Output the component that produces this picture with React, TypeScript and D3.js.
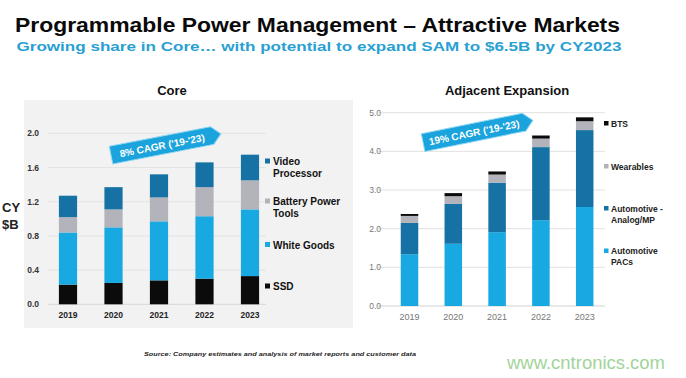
import React from "react";
import * as d3 from "d3";

const years = ["2019", "2020", "2021", "2022", "2023"];

// Core ($B)
const coreSeries = ["SSD", "White Goods", "Battery Power Tools", "Video Processor"];
const ssd = [0.23, 0.25, 0.28, 0.3, 0.33];
const whiteGoods = [0.61, 0.65, 0.69, 0.73, 0.78];
const batteryPowerTools = [0.18, 0.21, 0.28, 0.34, 0.34];
const videoProcessor = [0.25, 0.26, 0.27, 0.29, 0.3];
const coreTicks = [0, 0.4, 0.8, 1.2, 1.6, 2.0];

// Adjacent Expansion ($B)
const adjSeries = ["Automotive PACs", "Automotive - Analog/MP", "Wearables", "BTS"];
const autoPACs = [1.34, 1.61, 1.91, 2.22, 2.56];
const autoAnalogMP = [0.81, 1.03, 1.28, 1.89, 1.99];
const wearables = [0.18, 0.2, 0.21, 0.22, 0.23];
const bts = [0.05, 0.08, 0.08, 0.08, 0.1];
const adjTicks = [0, 1, 2, 3, 4, 5];

const C_DARK = "#1672a4";
const C_BRIGHT = "#18a8e2";
const C_GRAY = "#b2b3bb";
const C_BLACK = "#0b0b0b";
const coreColors = [C_BLACK, C_BRIGHT, C_GRAY, C_DARK];
const adjColors = [C_BRIGHT, C_DARK, C_GRAY, C_BLACK];

const FONT = "'Liberation Sans', Arial, sans-serif";

function stackRows(keys: string[], arrays: number[][]) {
  const rows = years.map((y, i) => {
    const r: any = { year: y };
    keys.forEach((k, j) => (r[k] = arrays[j][i]));
    return r;
  });
  return d3.stack<any>().keys(keys)(rows);
}

function Banner({ cx, cy, angle, label }: { cx: number; cy: number; angle: number; label: string }) {
  const L = 112;
  const H = 18;
  const tip = 9;
  const x0 = -L / 2;
  const x1 = L / 2 - tip;
  const pts = [
    [x0, -H / 2],
    [x1, -H / 2],
    [L / 2, 0],
    [x1, H / 2],
    [x0, H / 2],
  ];
  return (
    <g transform={`translate(${cx},${cy}) rotate(${angle})`}>
      <polygon
        points={pts.map((p) => p.join(",")).join(" ")}
        fill="#1aa3dc"
        stroke="#8fd6f2"
        strokeWidth={1}
      />
      <text
        x={-4}
        y={3.8}
        textAnchor="middle"
        fill="#ffffff"
        fontFamily={FONT}
        fontWeight="bold"
        fontSize={10}
      >
        {label}
      </text>
    </g>
  );
}

export default function App() {
  const xCore = d3
    .scaleBand<string>()
    .domain(years)
    .range([45.25, 272.75])
    .paddingInner(0.6)
    .paddingOuter(0.3);
  const yCore = d3.scaleLinear().domain([0, 2]).range([304.3, 133.3]);
  const coreStack = stackRows(coreSeries, [ssd, whiteGoods, batteryPowerTools, videoProcessor]);

  const xAdj = d3
    .scaleBand<string>()
    .domain(years)
    .range([387.6, 606.6])
    .paddingInner(0.6)
    .paddingOuter(0.3);
  const yAdj = d3.scaleLinear().domain([0, 5]).range([306, 112.7]);
  const adjStack = stackRows(adjSeries, [autoPACs, autoAnalogMP, wearables, bts]);

  const fmt = d3.format(".1f");

  const coreLegend = [
    { lines: ["Video", "Processor"], color: C_DARK, y: 165 },
    { lines: ["Battery Power", "Tools"], color: C_GRAY, y: 205 },
    { lines: ["White Goods"], color: C_BRIGHT, y: 248.5 },
    { lines: ["SSD"], color: C_BLACK, y: 290 },
  ];
  const adjLegend = [
    { lines: ["BTS"], color: C_BLACK, y: 126.5 },
    { lines: ["Wearables"], color: C_GRAY, y: 169.5 },
    { lines: ["Automotive -", "Analog/MP"], color: C_DARK, y: 211.5 },
    { lines: ["Automotive", "PACs"], color: C_BRIGHT, y: 254 },
  ];

  return (
    <svg
      width={686}
      height={378}
      style={{ position: "absolute", left: 0, top: 0, background: "#ffffff" }}
    >
      <rect x={0} y={0} width={686} height={378} fill="#ffffff" />

      <text
        x={15}
        y={32}
        fontFamily={FONT}
        fontWeight="bold"
        fontSize={20}
        fill="#0a0a0a"
        textLength={605}
        lengthAdjust="spacingAndGlyphs"
      >
        Programmable Power Management – Attractive Markets
      </text>
      <text
        x={16.5}
        y={51}
        fontFamily={FONT}
        fontWeight="bold"
        fontSize={13}
        fill="#2a9fd2"
        textLength={605}
        lengthAdjust="spacingAndGlyphs"
      >
        Growing share in Core… with potential to expand SAM to $6.5B by CY2023
      </text>

      {/* Core panel */}
      <rect x={24} y={100} width={329} height={228} fill="#f2f2f2" />
      <text x={172} y={95} textAnchor="middle" fontFamily={FONT} fontWeight="bold" fontSize={13} fill="#111">
        Core
      </text>
      {coreTicks.map((t) => (
        <g key={"ct" + t}>
          <line
            x1={48}
            x2={266}
            y1={yCore(t)}
            y2={yCore(t)}
            stroke={t === 0 ? "#d6d6d6" : "#e3e3e3"}
            strokeWidth={1}
          />
          <text
            x={39}
            y={yCore(t) + 3}
            textAnchor="end"
            fontFamily={FONT}
            fontWeight="bold"
            fontSize={8.5}
            fill="#333"
          >
            {fmt(t)}
          </text>
        </g>
      ))}
      <text x={2} y={212} fontFamily={FONT} fontWeight="bold" fontSize={13} fill="#222">
        CY
      </text>
      <text x={2} y={229} fontFamily={FONT} fontWeight="bold" fontSize={13} fill="#222">
        $B
      </text>
      {coreStack.map((layer, li) => (
        <g key={"cl" + li} fill={coreColors[li]}>
          {layer.map((d: any, i: number) => (
            <rect
              key={i}
              x={xCore(years[i])}
              width={xCore.bandwidth()}
              y={yCore(d[1])}
              height={yCore(d[0]) - yCore(d[1])}
            />
          ))}
        </g>
      ))}
      {years.map((y) => (
        <text
          key={"cx" + y}
          x={(xCore(y) as number) + xCore.bandwidth() / 2}
          y={318}
          textAnchor="middle"
          fontFamily={FONT}
          fontWeight="bold"
          fontSize={8.5}
          fill="#222"
        >
          {y}
        </text>
      ))}
      {coreLegend.map((l, i) => (
        <g key={"lg" + i}>
          <rect x={265} y={l.y - 6.5} width={5} height={5} fill={l.color} />
          {l.lines.map((s, j) => (
            <text
              key={j}
              x={273}
              y={l.y + j * 11.5}
              fontFamily={FONT}
              fontWeight="bold"
              fontSize={10}
              fill="#111"
            >
              {s}
            </text>
          ))}
        </g>
      ))}
      <Banner cx={166} cy={144.5} angle={-11} label="8% CAGR ('19-'23)" />

      {/* Adjacent panel */}
      <text x={507} y={95} textAnchor="middle" fontFamily={FONT} fontWeight="bold" fontSize={13} fill="#111">
        Adjacent Expansion
      </text>
      {adjTicks.map((t) => (
        <g key={"at" + t}>
          <line
            x1={378}
            x2={605}
            y1={yAdj(t)}
            y2={yAdj(t)}
            stroke={t === 0 ? "#d2d2d2" : "#e2e2e2"}
            strokeWidth={1}
          />
          <text
            x={381}
            y={yAdj(t) + 3}
            textAnchor="end"
            fontFamily={FONT}
            fontSize={8.5}
            fill="#777"
          >
            {fmt(t)}
          </text>
        </g>
      ))}
      {adjStack.map((layer, li) => (
        <g key={"al" + li} fill={adjColors[li]}>
          {layer.map((d: any, i: number) => (
            <rect
              key={i}
              x={xAdj(years[i])}
              width={xAdj.bandwidth()}
              y={yAdj(d[1])}
              height={yAdj(d[0]) - yAdj(d[1])}
            />
          ))}
        </g>
      ))}
      {years.map((y) => (
        <text
          key={"ax" + y}
          x={(xAdj(y) as number) + xAdj.bandwidth() / 2}
          y={320}
          textAnchor="middle"
          fontFamily={FONT}
          fontSize={9}
          fill="#777"
        >
          {y}
        </text>
      ))}
      {adjLegend.map((l, i) => (
        <g key={"alg" + i}>
          <rect x={604} y={l.y - 5.5} width={4.5} height={4.5} fill={l.color} />
          {l.lines.map((s, j) => (
            <text
              key={j}
              x={611}
              y={l.y + j * 11}
              fontFamily={FONT}
              fontWeight="bold"
              fontSize={8.5}
              fill="#222"
            >
              {s}
            </text>
          ))}
        </g>
      ))}
      <Banner cx={478} cy={131.5} angle={-11.5} label="19% CAGR ('19-'23)" />

      <text
        x={144}
        y={356}
        fontFamily={FONT}
        fontStyle="italic"
        fontWeight="bold"
        fontSize={6}
        fill="#222"
        textLength={272}
        lengthAdjust="spacingAndGlyphs"
      >
        Source: Company estimates and analysis of market reports and customer data
      </text>
      <text
        x={507}
        y={369}
        fontFamily={FONT}
        fontSize={19}
        fill="#9fd49a"
        textLength={158}
        lengthAdjust="spacingAndGlyphs"
      >
        www.cntronics.com
      </text>
    </svg>
  );
}
